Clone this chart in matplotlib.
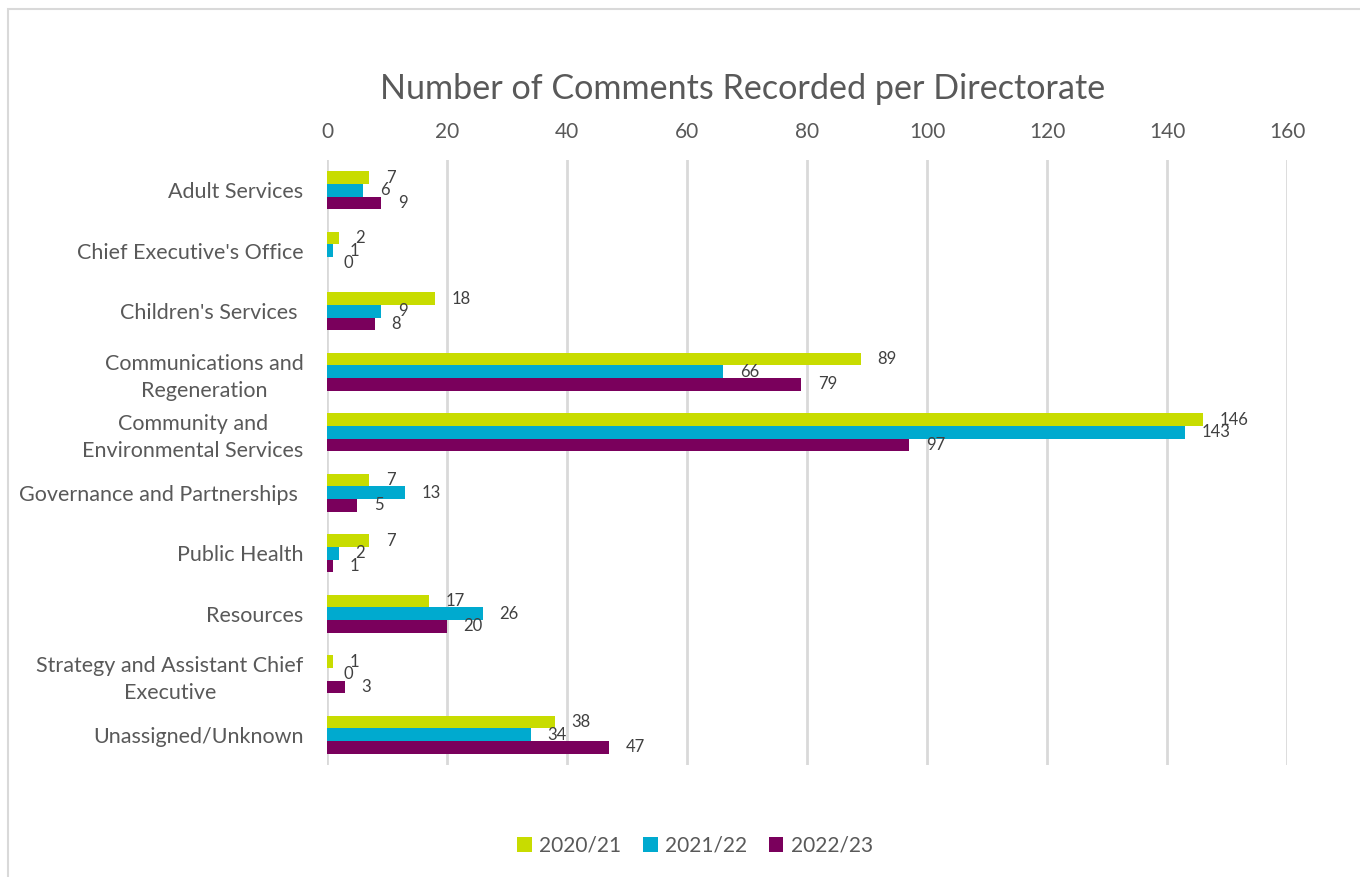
import numpy as np
import matplotlib.pyplot as plt
from matplotlib.patches import Rectangle

plt.rcParams['font.family'] = ['Lato', 'DejaVu Sans']

categories = ["Adult Services", "Chief Executive's Office", "Children's Services ",
              "Communications and\nRegeneration", "Community and\nEnvironmental Services",
              "Governance and Partnerships ", "Public Health", "Resources",
              "Strategy and Assistant Chief\nExecutive", "Unassigned/Unknown"]
years = ["2020/21", "2021/22", "2022/23"]
y2020 = [7, 2, 18, 89, 146, 7, 7, 17, 1, 38]
y2021 = [6, 1, 9, 66, 143, 13, 2, 26, 0, 34]
y2022 = [9, 0, 8, 79, 97, 5, 1, 20, 3, 47]
colors = ["#c8dc00", "#00aacf", "#7a005c"]
xticks = [0, 20, 40, 60, 80, 100, 120, 140, 160]

text_col = "#595959"
fig = plt.figure(figsize=(13.6, 8.77), dpi=100)
ax = fig.add_axes([327/1360, 1-765/877, 960/1360, 605/877])

# light frame around the chart area
fig.patches.append(Rectangle((8/1360, -0.1), 1.2, 1-9/877+0.1, transform=fig.transFigure,
                             fill=False, edgecolor="#d9d9d9", linewidth=1.5))

pos = np.arange(len(categories))
h = 0.21
for i, (vals, lab) in enumerate(zip([y2020, y2021, y2022], years)):
    bars = ax.barh(pos + (i - 1) * h, vals, height=h, color=colors[i], label=lab, zorder=3)
    ax.bar_label(bars, padding=12, fontsize=12, color="#404040")

ax.set_xlim(0, 160)
ax.set_ylim(len(categories) - 0.5, -0.5)
ax.set_xticks(xticks)
ax.xaxis.tick_top()
ax.tick_params(axis='x', length=0, pad=13, labelsize=15, labelcolor=text_col)
ax.set_yticks(pos)
ax.set_yticklabels(categories, ha='right', multialignment='center', linespacing=1.45)
ax.tick_params(axis='y', length=0, pad=17, labelsize=15.5, labelcolor=text_col)
ax.grid(axis='x', color="#d9d9d9", linewidth=2, zorder=0)
for s in ax.spines.values():
    s.set_visible(False)

fig.text(743/1360, 1-89/877, "Number of Comments Recorded per Directorate",
         ha='center', va='center', fontsize=24.6, color=text_col)

ax.legend(loc='center', bbox_to_anchor=(695/1360, 1-846/877), bbox_transform=fig.transFigure,
          ncol=3, frameon=False, fontsize=15, handlelength=0.7, handleheight=0.7,
          handletextpad=0.35, columnspacing=1.05, labelcolor=text_col)

plt.savefig("out.png", dpi=100)
